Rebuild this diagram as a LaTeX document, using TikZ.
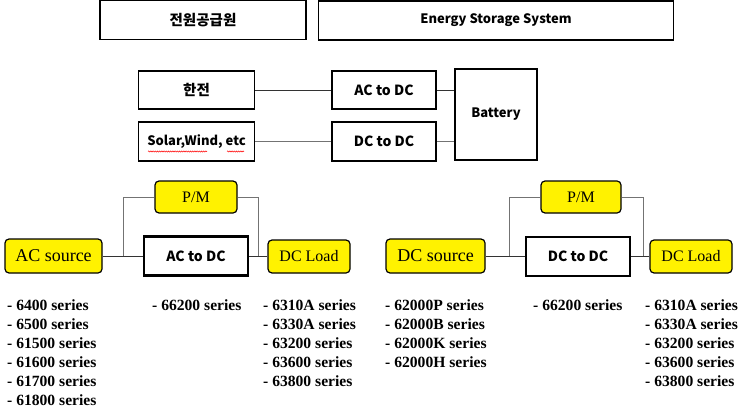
\documentclass[tikz,border=0pt]{standalone}
\usepackage{fontspec}
\setmainfont{Liberation Serif}
\newfontfamily\krfont{Noto Sans CJK KR}
\usetikzlibrary{positioning, decorations.pathmorphing}
\tikzset{
    box/.style={rectangle, draw, line width=1.8pt, inner sep=0pt, font=\krfont\bfseries\fontsize{13}{15}\selectfont},
    conv/.style={box, font=\krfont\bfseries\fontsize{14}{16}\selectfont},
    hangul/.style={box, font=\krfont\bfseries\fontsize{14.5}{16}\selectfont},
    ybox/.style={rectangle, draw, rounded corners=4pt, fill=yellow, line width=1.2pt, inner sep=0pt, font=\fontsize{16}{18}\selectfont},
    wire/.style={draw=black!80, line width=0.9pt},
    grey wire/.style={draw=black!55, line width=0.9pt},
    series/.style={anchor=north west, align=left, inner sep=0pt, font=\bfseries\fontsize{15.6}{19.1}\selectfont}
}

\begin{document}
\begin{tikzpicture}[x=1pt, y=-1pt]
    \useasboundingbox (0,0) rectangle (743,409);
    % headers
    \node (psu) [hangul, minimum width=206, minimum height=39] at (203,20) {전원공급원};
    \node (ess) [box, minimum width=355, minimum height=39] at (496,20.5) {Energy Storage System};

    % energy storage block
    \node (kepco) [hangul, minimum width=116, minimum height=38] at (196.5,90) {한전};
    \node (solar) [box, minimum width=116, minimum height=39] at (196.5,141.5) {Solar,Wind, etc};
    \node (acdc1) [conv, minimum width=104, minimum height=38] at (384,90) {AC to DC};
    \node (dcdc1) [conv, minimum width=104, minimum height=39] at (384,141.5) {DC to DC};
    \node (bat) [box, minimum width=82, minimum height=91] at (496,114.5) {Battery};

    \draw [wire] (kepco) -- (acdc1);
    \draw [grey wire] (solar) -- (dcdc1);
    \draw [wire] (acdc1) -- (acdc1 -| bat.west);
    \draw [grey wire] (dcdc1) -- (dcdc1 -| bat.west);
    \draw [red, line width=0.5pt, decorate, decoration={snake, segment length=2.2pt, amplitude=0.6pt}] (148,151.5) -- (207,151.5);
    \draw [red, line width=0.5pt, decorate, decoration={snake, segment length=2.2pt, amplitude=0.6pt}] (227,151.5) -- (244,151.5);

    % AC test set
    \node (acsrc) [ybox, minimum width=97, minimum height=34, font=\fontsize{18}{20}\selectfont] at (53.5,256) {AC source};
    \node (pm1) [ybox, minimum width=82, minimum height=32] at (196,197) {P/M};
    \node (acdc2) [conv, line width=2.5pt, minimum width=104, minimum height=39] at (196,256) {AC to DC};
    \node (load1) [ybox, minimum width=82, minimum height=33] at (309,256.5) {DC Load};
    \coordinate (j1) at (123,256);
    \coordinate (j2) at (258,256);

    \draw [wire] (acsrc) -- (acdc2);
    \draw [wire] (acdc2) -- (load1.west |- acdc2);
    \draw [grey wire] (j1) |- (pm1);
    \draw [grey wire] (pm1) -| (j2);

    \node (aclist) [series] at (7,299.3) {- 6400 series\\- 6500 series\\- 61500 series\\- 61600 series\\- 61700 series\\- 61800 series};
    \node (acmid) [series] at (152,299.3) {- 66200 series};
    \node (acload) [series] at (263,299.3) {- 6310A series\\- 6330A series\\- 63200 series\\- 63600 series\\- 63800 series};

    % DC test set
    \node (dcsrc) [ybox, minimum width=99, minimum height=34, font=\fontsize{18}{20}\selectfont] at (435.5,256) {DC source};
    \node (pm2) [ybox, minimum width=80, minimum height=32] at (581,197) {P/M};
    \node (dcdc2) [conv, line width=2.5pt, minimum width=104, minimum height=39] at (578,256.5) {DC to DC};
    \node (load2) [ybox, minimum width=82, minimum height=33] at (691,256.5) {DC Load};
    \coordinate (j3) at (509,256);
    \coordinate (j4) at (643,256);

    \draw [wire] (dcsrc) -- (dcsrc -| dcdc2.west);
    \draw [wire] (dcdc2) -- (load2.west |- dcdc2);
    \draw [grey wire] (j3) |- (pm2);
    \draw [grey wire] (pm2) -| (j4);

    \node (dclist) [series] at (385,299.3) {- 62000P series\\- 62000B series\\- 62000K series\\- 62000H series};
    \node (dcmid) [series] at (533,299.3) {- 66200 series};
    \node (dcload) [series] at (645,299.3) {- 6310A series\\- 6330A series\\- 63200 series\\- 63600 series\\- 63800 series};
\end{tikzpicture}
\end{document}
